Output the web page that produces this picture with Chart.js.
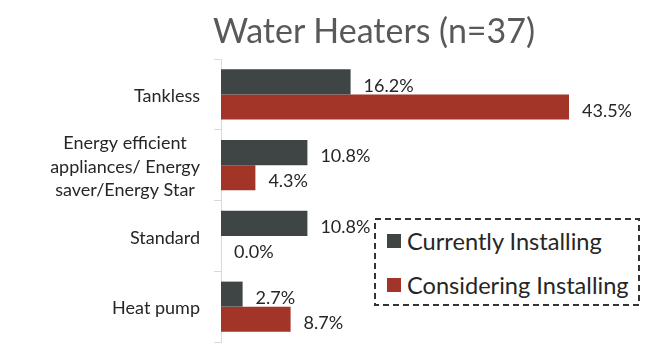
<!DOCTYPE html>
<html><head><meta charset="utf-8">
<script src="https://cdn.jsdelivr.net/npm/chart.js@4.4.0/dist/chart.umd.min.js"></script>
<style>
html,body{margin:0;padding:0;background:#fff;}
#wrap{position:relative;width:653px;height:355px;overflow:hidden;font-family:Lato,'Open Sans',sans-serif;}
#chart{position:absolute;left:0;top:0;}
#title{position:absolute;left:124px;width:500px;top:9px;text-align:center;font-size:34px;line-height:42px;color:#595959;white-space:nowrap;}
#legend{position:absolute;left:374px;top:218px;width:266px;height:88px;background:#fff;}
#legend svg{position:absolute;left:0;top:0;}
.item{position:absolute;left:13px;height:24px;display:flex;align-items:center;font-size:23.6px;color:#262626;white-space:nowrap;}
.sw{width:14px;height:14px;margin-right:6px;flex:none;}
</style></head>
<body>
<div id="wrap">
  <canvas id="chart" width="653" height="355"></canvas>
  <div id="title">Water Heaters (n=37)</div>
  <div id="legend">
    <svg width="266" height="88"><rect x="1" y="1" width="264" height="86" fill="#fff" stroke="#333" stroke-width="2" stroke-dasharray="6 4"/></svg>
  </div>
</div>
<script>
const categories = ["Tankless", ["Energy efficient", "appliances/ Energy", "saver/Energy Star"], "Standard", "Heat pump"];
const seriesNames = ["Currently Installing", "Considering Installing"];
const currentlyInstalling = [16.2, 10.8, 10.8, 2.7];
const consideringInstalling = [43.5, 4.3, 0.0, 8.7];
const seriesColors = ["#3f4444", "#a33428"];

const legendEl = document.getElementById('legend');
seriesNames.forEach((name, i) => {
  const d = document.createElement('div');
  d.className = 'item';
  d.style.top = (i === 0 ? 229 : 273) - 218 + 'px';
  const sw = document.createElement('span');
  sw.className = 'sw';
  sw.style.background = seriesColors[i];
  d.appendChild(sw);
  d.appendChild(document.createTextNode(name));
  legendEl.appendChild(d);
});

const valueLabels = {
  id: 'valueLabels',
  afterDatasetsDraw(chart) {
    const ctx = chart.ctx;
    ctx.save();
    ctx.font = '18px Lato';
    ctx.fillStyle = '#262626';
    ctx.textAlign = 'left';
    ctx.textBaseline = 'middle';
    chart.data.datasets.forEach((ds, i) => {
      chart.getDatasetMeta(i).data.forEach((bar, j) => {
        ctx.fillText(ds.data[j].toFixed(1) + '%', bar.x + 13, bar.y + 4);
      });
    });
    ctx.restore();
  }
};

// Category labels: each label block right-aligned to the axis, its lines centred within the block
const categoryLabels = {
  id: 'categoryLabels',
  afterDraw(chart) {
    const s = chart.scales.y;
    const ctx = chart.ctx;
    ctx.save();
    ctx.font = '18px Lato';
    ctx.fillStyle = '#262626';
    ctx.textAlign = 'center';
    ctx.textBaseline = 'middle';
    const rightEdge = s.right - 7 - 14;
    const lh = 23.5;
    chart.data.labels.forEach((lab, i) => {
      const lines = Array.isArray(lab) ? lab : [lab];
      const w = Math.max(...lines.map(l => ctx.measureText(l).width));
      const cx = rightEdge - w / 2;
      const cy = s.getPixelForTick(i) + 2;
      lines.forEach((ln, k) => ctx.fillText(ln, cx, cy + (k - (lines.length - 1) / 2) * lh));
    });
    ctx.restore();
  }
};

new Chart(document.getElementById('chart'), {
  type: 'bar',
  data: {
    labels: categories,
    datasets: [
      { label: seriesNames[0], data: currentlyInstalling, backgroundColor: seriesColors[0] },
      { label: seriesNames[1], data: consideringInstalling, backgroundColor: seriesColors[1] }
    ]
  },
  options: {
    indexAxis: 'y',
    responsive: false,
    animation: false,
    devicePixelRatio: 1,
    categoryPercentage: 0.707,
    barPercentage: 1,
    layout: { padding: { left: 0, right: 32, top: 59, bottom: 13 } },
    plugins: { legend: { display: false }, title: { display: false }, tooltip: { enabled: false } },
    scales: {
      x: { display: false, min: 0, max: 50 },
      y: {
        afterFit(scale) { scale.width = 221; scale.paddingTop = 0; scale.paddingBottom = 0; },
        grid: { display: true, drawOnChartArea: false, drawTicks: true, tickLength: 7, offset: true, color: '#d9d9d9' },
        border: { display: true, color: '#d9d9d9', width: 1 },
        ticks: { display: false, autoSkip: false }
      }
    }
  },
  plugins: [valueLabels, categoryLabels]
});
</script>
</body></html>
